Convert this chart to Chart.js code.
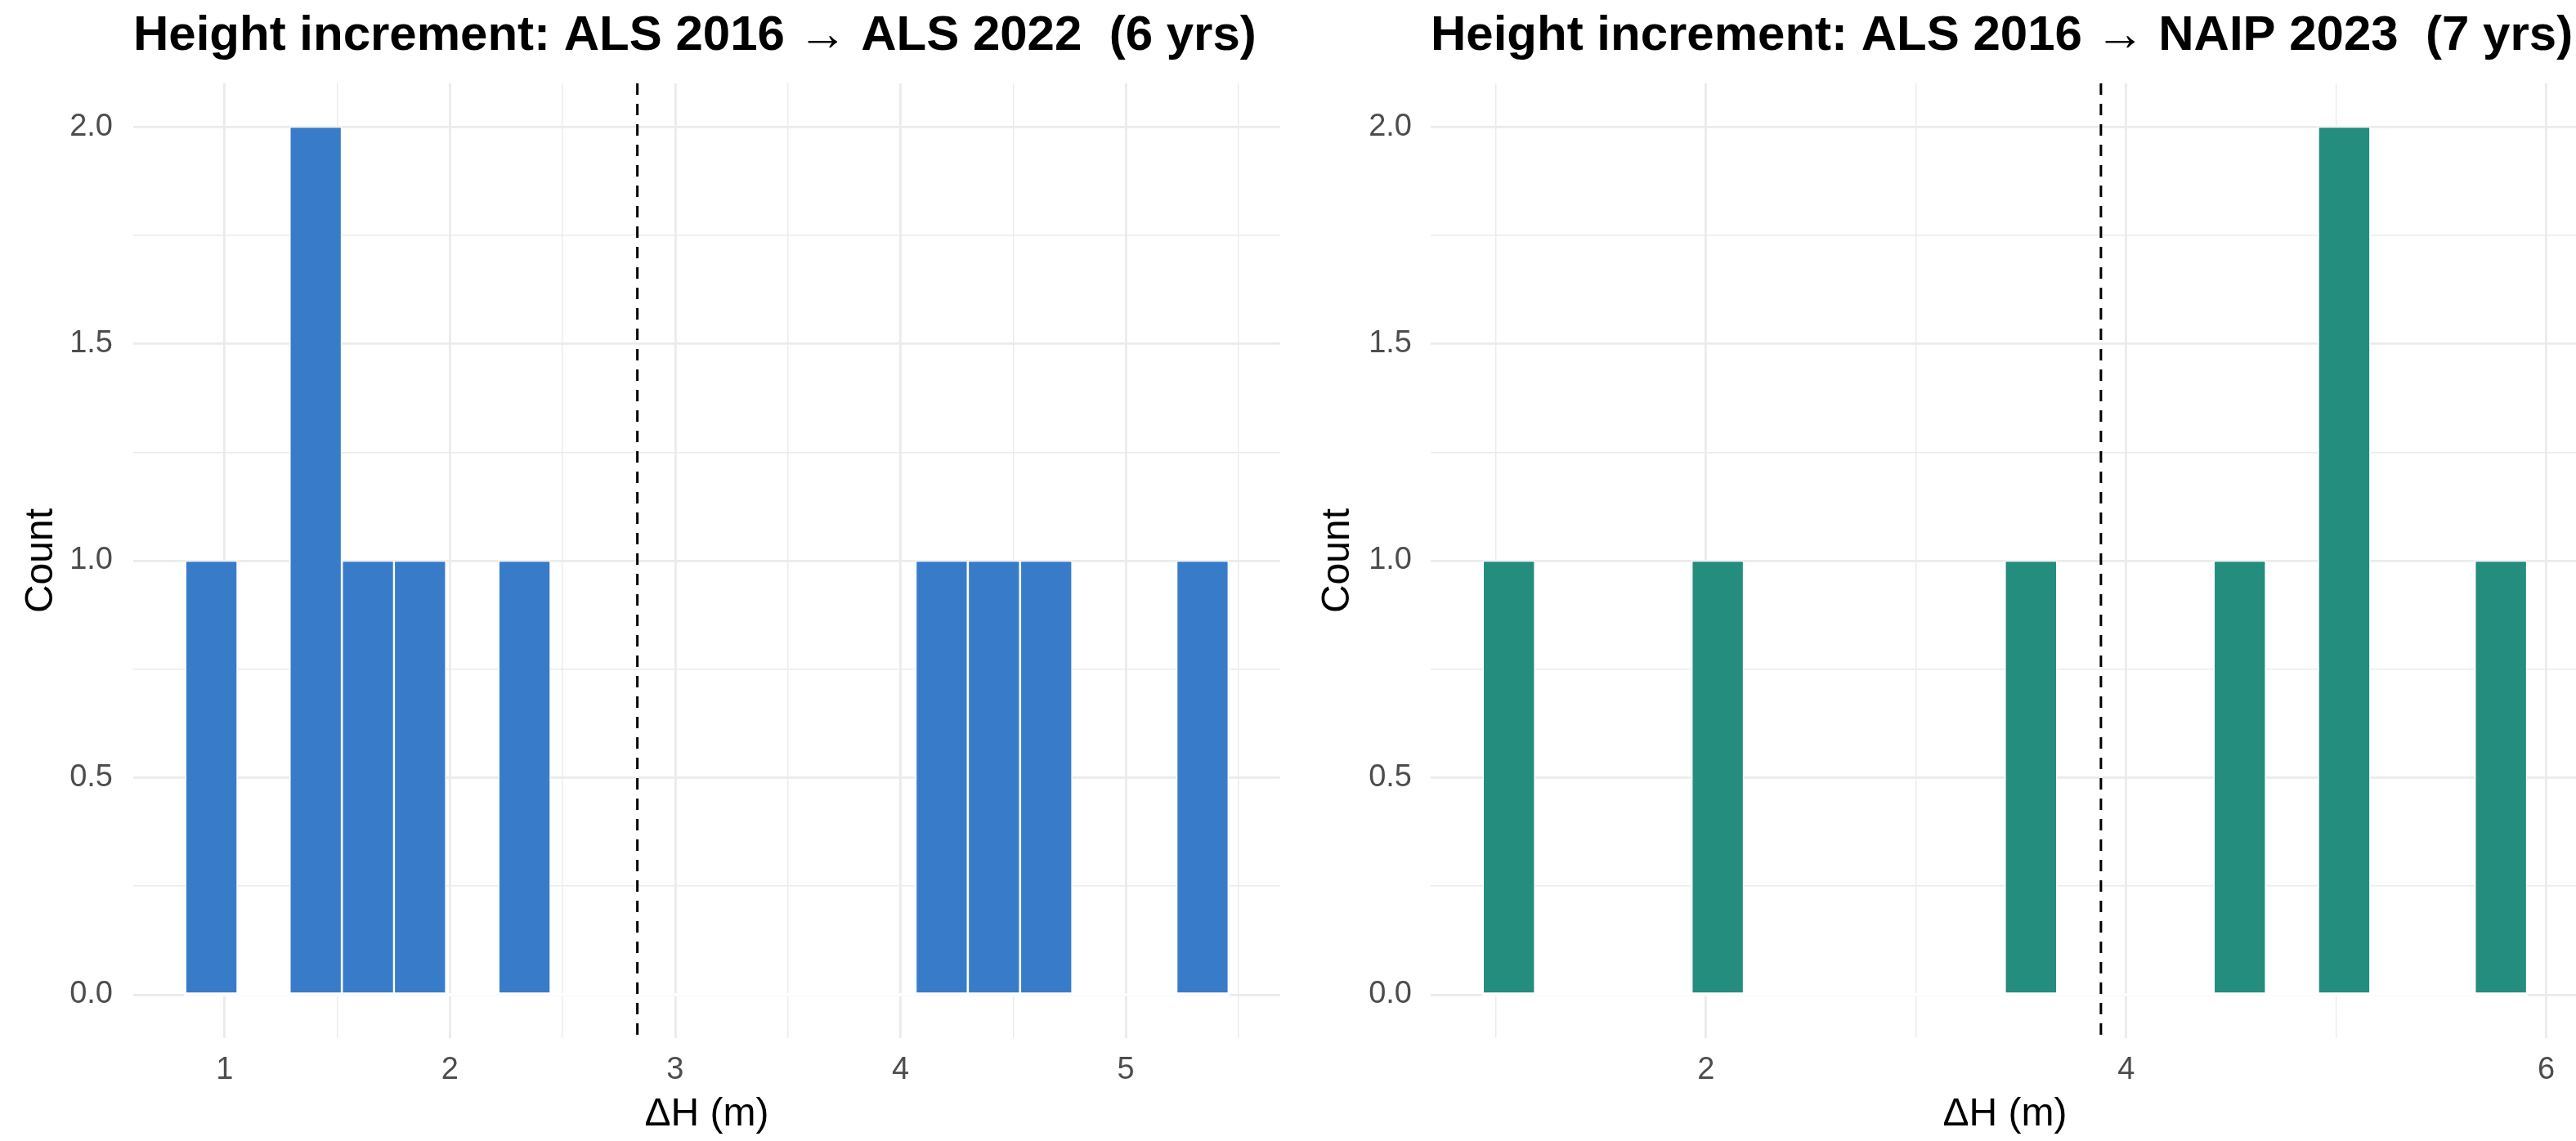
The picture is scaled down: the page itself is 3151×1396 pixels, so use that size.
<!DOCTYPE html>
<html>
<head>
<meta charset="utf-8">
<script src="https://cdn.jsdelivr.net/npm/chart.js@4.4.1/dist/chart.umd.min.js"></script>
<style>
  html, body { margin: 0; padding: 0; background: #fff; overflow: hidden; }
  canvas { position: absolute; top: 0; }
</style>
</head>
<body>
<canvas id="alsChart" width="1580" height="1396" style="left:0"></canvas>
<canvas id="naipChart" width="1580" height="1396" style="left:1580px"></canvas>
<script>
// ALS 2016 -> ALS 2022: bin centres (m) and counts
const alsBins = [0.941, 1.173, 1.404, 1.636, 1.867, 2.099, 2.331, 2.562, 2.794, 3.025,
                 3.257, 3.489, 3.720, 3.952, 4.183, 4.415, 4.647, 4.878, 5.110, 5.341];
const alsCounts = [1, 0, 2, 1, 1, 0, 1, 0, 0, 0, 0, 0, 0, 0, 1, 1, 1, 0, 0, 1];
const alsMean = 2.832;

// ALS 2016 -> NAIP 2023
const naipBins = [1.062, 1.311, 1.559, 1.808, 2.056, 2.305, 2.553, 2.802, 3.050, 3.299,
                  3.547, 3.796, 4.044, 4.293, 4.541, 4.790, 5.038, 5.287, 5.535, 5.784];
const naipCounts = [1, 0, 0, 0, 1, 0, 0, 0, 0, 0, 1, 0, 0, 0, 1, 0, 2, 0, 0, 1];
const naipMean = 3.880;

// grid / tick positions
const alsXTicks = [1, 1.5, 2, 2.5, 3, 3.5, 4, 4.5, 5, 5.5];
const alsXLabels = [1, 2, 3, 4, 5];
const naipXTicks = [1, 2, 3, 4, 5, 6];
const naipXLabels = [2, 4, 6];
const yTicks = [0, 0.25, 0.5, 0.75, 1, 1.25, 1.5, 1.75, 2];
const yLabels = [0, 0.5, 1, 1.5, 2];

Chart.defaults.font.family = "'Liberation Sans', Arial, sans-serif";

// dashed vertical line at the mean increment
const meanLine = {
  id: 'meanLine',
  afterDatasetsDraw(chart, args, opts) {
    const { ctx, chartArea, scales } = chart;
    const x = scales.x.getPixelForValue(opts.value);
    ctx.save();
    ctx.beginPath();
    ctx.setLineDash([14, 11]);
    ctx.lineWidth = 3;
    ctx.strokeStyle = '#000';
    ctx.moveTo(x, chartArea.top);
    ctx.lineTo(x, chartArea.bottom);
    ctx.stroke();
    ctx.restore();
  }
};

// empty bins still get a white outline along the baseline
const emptyBins = {
  id: 'emptyBins',
  beforeDatasetsDraw(chart) {
    const { ctx, scales } = chart;
    const bars = chart.getDatasetMeta(0).data;
    const first = bars[0], last = bars[bars.length - 1];
    const x0 = first.x - first.width / 2;
    const x1 = last.x + last.width / 2;
    const y = scales.y.getPixelForValue(0);
    ctx.save();
    ctx.fillStyle = '#fff';
    ctx.fillRect(x0 - 1.5, y - 1.7, x1 - x0 + 3, 3.4);
    ctx.restore();
  }
};

const gridStyle = majors => ({
  color: '#EBEBEB',
  lineWidth: c => (c.tick && !majors.includes(c.tick.value) ? 1.4 : 2.8),
  drawTicks: false,
  offset: false
});

const makeChart = (id, cfg) => {
  const ctx = document.getElementById(id).getContext('2d');
  return new Chart(ctx, {
    type: 'bar',
    data: {
      datasets: [
        {
          data: cfg.bins.map((b, i) => ({ x: b, y: cfg.counts[i] })),
          backgroundColor: cfg.color,
          borderColor: '#fff',
          borderWidth: 1.5,
          borderSkipped: false,
          barPercentage: 1,
          categoryPercentage: 1
        }
      ]
    },
    options: {
      responsive: false,
      animation: false,
      devicePixelRatio: 1,
      layout: { padding: { top: 0, left: 0, right: cfg.padRight, bottom: 0 } },
      plugins: {
        legend: { display: false },
        tooltip: { enabled: false },
        title: {
          display: true,
          text: cfg.title,
          align: 'start',
          fullSize: false,
          color: '#000',
          font: { size: 60, weight: 'bold' },
          padding: { top: 8, bottom: 22 }
        },
        meanLine: { value: cfg.mean }
      },
      scales: {
        x: {
          type: 'linear',
          offset: false,
          min: cfg.xMin,
          max: cfg.xMax,
          afterBuildTicks: s => { s.ticks = cfg.xTicks.map(v => ({ value: v })); },
          afterFit: s => { s.height = 126; },
          grid: gridStyle(cfg.xLabels),
          border: { display: false },
          ticks: {
            autoSkip: false,
            maxRotation: 0,
            padding: 17,
            color: '#4D4D4D',
            font: { size: 38 },
            callback: v => (cfg.xLabels.includes(v) ? String(v) : '')
          },
          title: {
            display: true,
            text: 'ΔH (m)',
            color: '#000',
            font: { size: 48 },
            padding: { top: 0, bottom: 3 }
          }
        },
        y: {
          min: -0.1,
          max: 2.1,
          afterBuildTicks: s => { s.ticks = yTicks.map(v => ({ value: v })); },
          afterFit: s => { s.width = cfg.yWidth; },
          grid: gridStyle(yLabels),
          border: { display: false },
          ticks: {
            autoSkip: false,
            padding: cfg.yTickPad,
            color: '#4D4D4D',
            font: { size: 38 },
            callback: v => (yLabels.includes(v) ? v.toFixed(1) : '')
          },
          title: {
            display: true,
            text: 'Count',
            color: '#000',
            font: { size: 48 },
            padding: { top: cfg.yTitlePad, bottom: 0 }
          }
        }
      }
    },
    plugins: [emptyBins, meanLine]
  });
};

makeChart('alsChart', {
  title: 'Height increment: ALS 2016 → ALS 2022  (6 yrs)',
  bins: alsBins,
  counts: alsCounts,
  mean: alsMean,
  color: 'rgb(56, 124, 201)',
  xMin: 0.594,
  xMax: 5.686,
  xTicks: alsXTicks,
  xLabels: alsXLabels,
  padRight: 14,
  yWidth: 163,
  yTickPad: 25,
  yTitlePad: 22
});

makeChart('naipChart', {
  title: 'Height increment: ALS 2016 → NAIP 2023  (7 yrs)',
  bins: naipBins,
  counts: naipCounts,
  mean: naipMean,
  color: 'rgb(36, 141, 126)',
  xMin: 0.6895,
  xMax: 6.157,
  xTicks: naipXTicks,
  xLabels: naipXLabels,
  padRight: 5,
  yWidth: 170,
  yTickPad: 23,
  yTitlePad: 28
});
</script>
</body>
</html>
